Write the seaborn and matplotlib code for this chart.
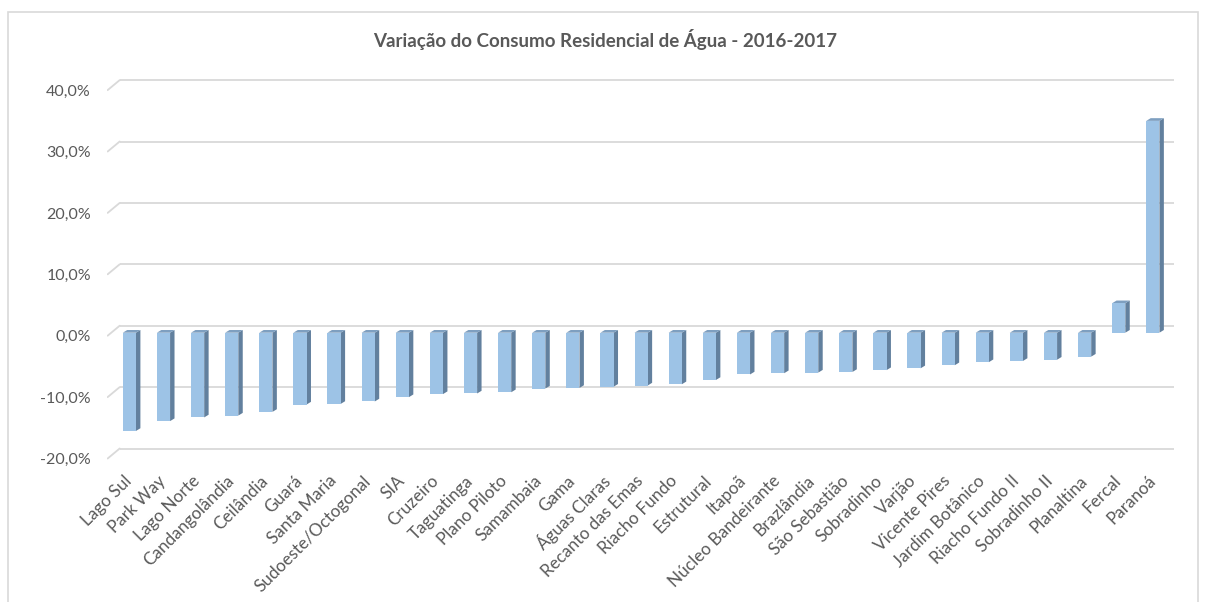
import numpy as np
import pandas as pd
import matplotlib
matplotlib.use('Agg')
import matplotlib.pyplot as plt
from matplotlib.patches import Polygon, Rectangle
import seaborn as sns

regioes = ['Lago Sul', 'Park Way', 'Lago Norte', 'Candangolândia', 'Ceilândia', 'Guará',
           'Santa Maria', 'Sudoeste/Octogonal', 'SIA', 'Cruzeiro', 'Taguatinga', 'Plano Piloto',
           'Samambaia', 'Gama', 'Águas Claras', 'Recanto das Emas', 'Riacho Fundo', 'Estrutural',
           'Itapoã', 'Núcleo Bandeirante', 'Brazlândia', 'São Sebastião', 'Sobradinho', 'Varjão',
           'Vicente Pires', 'Jardim Botânico', 'Riacho Fundo II', 'Sobradinho II', 'Planaltina',
           'Fercal', 'Paranoá']
variacao = [-16.0, -14.4, -13.8, -13.5, -12.9, -11.7, -11.6, -11.2, -10.5, -10.0, -9.9, -9.7,
            -9.1, -9.0, -8.8, -8.6, -8.4, -7.7, -6.8, -6.6, -6.5, -6.4, -6.1, -5.8,
            -5.3, -4.8, -4.6, -4.4, -3.9, 4.8, 34.5]
yticks = [-20, -10, 0, 10, 20, 30, 40]
titulo = 'Variação do Consumo Residencial de Água - 2016-2017'

sns.set_style('white')
plt.rcParams['font.family'] = ['Lato', 'DejaVu Sans']

TXT = '#595959'
GRID = '#D9D9D9'
FRONT = '#9DC3E6'
SIDE = '#62809E'
TOP = '#7E9FC0'

W, H = 1205, 602
fig = plt.figure(figsize=(W / 100, H / 100), dpi=100)

# outer chart border
fig.patches.append(Rectangle((8 / W, -0.1), (1198 - 8) / W, 1 - 12 / H + 0.1,
                             transform=fig.transFigure, fill=False, edgecolor=GRID, lw=1.2))

px = 6.14  # pixels per percent
top_px, bot_px = 75, 470
ax = fig.add_axes([107 / W, 1 - bot_px / H, (1174 - 107) / W, (bot_px - top_px) / H])

df = pd.DataFrame({'regiao': regioes, 'variacao': variacao})
sns.barplot(data=df, x='regiao', y='variacao', color=FRONT, saturation=1, width=0.386,
            linewidth=0, ax=ax, zorder=3)

ax.set_ylim((332.7 - bot_px) / px, (332.7 - top_px) / px)
ax.set_xlim(-0.656, len(regioes) - 1 + 0.62)

# 3D depth of the bars
dx, dy = 0.13, 0.44
for p in list(ax.patches):
    x0, w = p.get_x(), p.get_width()
    y0, h = p.get_y(), p.get_height()
    x1 = x0 + w
    lo, hi = min(y0, y0 + h), max(y0, y0 + h)
    ax.add_patch(Polygon([(x1, lo), (x1 + dx, lo + dy), (x1 + dx, hi + dy), (x1, hi)],
                         closed=True, facecolor=SIDE, edgecolor='none', zorder=2.9))
    ax.add_patch(Polygon([(x0, hi), (x0 + dx, hi + dy), (x1 + dx, hi + dy), (x1, hi)],
                         closed=True, facecolor=TOP, edgecolor='none', zorder=2.9))

# back wall gridlines with the small floor stub at the left
back, front = 1.14, -0.49
xs0, xs1 = -0.637, -0.284
xr = ax.get_xlim()[1]
for v in yticks:
    ax.plot([xs1, xr], [v + back, v + back], color=GRID, lw=1.3, zorder=1, solid_capstyle='butt')
    ax.plot([xs0, xs1], [v + front, v + back], color=GRID, lw=1.3, zorder=1)

ax.set_yticks([v + front for v in yticks])
ax.set_yticklabels([f'{v:.1f}%'.replace('.', ',') for v in yticks], color=TXT, fontsize=11.5)
ax.tick_params(axis='y', length=0, pad=11.5)

ax.set_xticks(range(len(regioes)))
ax.set_xticklabels(regioes, rotation=45, ha='right', rotation_mode='anchor', va='center',
                   color=TXT, fontsize=12.3)
ax.tick_params(axis='x', length=0, pad=6)

ax.set_xlabel('')
ax.set_ylabel('')
sns.despine(ax=ax, left=True, bottom=True)

fig.text(605 / W, 1 - 40 / H, titulo, ha='center', va='center', color=TXT,
         fontsize=13.5, fontweight='bold')

fig.savefig('out.png', dpi=100, facecolor='white')
